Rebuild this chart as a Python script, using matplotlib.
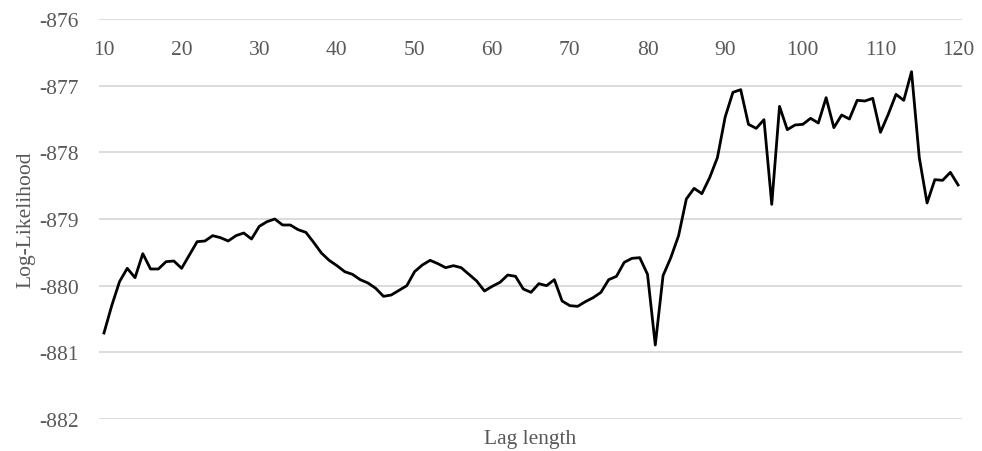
import matplotlib
matplotlib.use("Agg")
import matplotlib.pyplot as plt

plt.rcParams['font.family'] = ['Liberation Serif', 'DejaVu Serif']
plt.rcParams['axes.unicode_minus'] = False

lags = list(range(10, 121))
log_likelihood = [
    -880.71, -880.30, -879.94, -879.74, -879.88, -879.52, -879.75, -879.75, -879.64, -879.63,  # 10-19
    -879.74, -879.54, -879.34, -879.33, -879.25, -879.28, -879.33, -879.25, -879.21, -879.30,  # 20-29
    -879.11, -879.04, -879.00, -879.09, -879.09, -879.16, -879.20, -879.35, -879.51, -879.62,  # 30-39
    -879.70, -879.79, -879.83, -879.91, -879.96, -880.04, -880.16, -880.14, -880.07, -880.00,  # 40-49
    -879.79, -879.69, -879.62, -879.67, -879.73, -879.70, -879.73, -879.83, -879.93, -880.08,  # 50-59
    -880.01, -879.95, -879.84, -879.86, -880.05, -880.10, -879.97, -880.00, -879.91, -880.23,  # 60-69
    -880.30, -880.31, -880.24, -880.18, -880.10, -879.91, -879.86, -879.65, -879.59, -879.58,  # 70-79
    -879.83, -880.89, -879.85, -879.58, -879.25, -878.70, -878.54, -878.62, -878.38, -878.08,  # 80-89
    -877.47, -877.10, -877.06, -877.58, -877.64, -877.51, -878.78, -877.31, -877.66, -877.59,  # 90-99
    -877.58, -877.49, -877.56, -877.18, -877.63, -877.44, -877.50, -877.22, -877.23, -877.19,  # 100-109
    -877.70, -877.43, -877.13, -877.22, -876.79, -878.08, -878.76, -878.41, -878.42, -878.30,  # 110-119
    -878.49,  # 120
]
x_ticks = list(range(10, 121, 10))
y_ticks = [-882, -881, -880, -879, -878, -877, -876]

text_color = '#595959'
grid_color = '#d9d9d9'

fig = plt.figure(figsize=(9.82, 4.52), dpi=100)
ax = fig.add_axes([99 / 982, 1 - 420 / 452, (962 - 99) / 982, 400 / 452])

ax.plot(lags, log_likelihood, color='black', linewidth=2.0)

ax.set_xlim(9.36, 120.5)
ax.set_ylim(-882, -876)
ax.set_xticks(x_ticks)
ax.set_yticks(y_ticks)
ax.grid(axis='y', color=grid_color, linewidth=1.3)
ax.set_axisbelow(True)
for s in ax.spines.values():
    s.set_visible(False)

ax.tick_params(axis='x', bottom=False, labelbottom=False, top=False, labeltop=True,
               pad=-32, labelsize=15.5, labelcolor=text_color)
ax.tick_params(axis='y', left=False, pad=11, labelsize=15.5, labelcolor=text_color)

ax.set_ylabel('Log-Likelihood', fontsize=15.5, color=text_color, labelpad=3)
ax.set_xlabel('Lag length', fontsize=15.5, color=text_color, labelpad=7)

fig.savefig('out.png', dpi=100)
